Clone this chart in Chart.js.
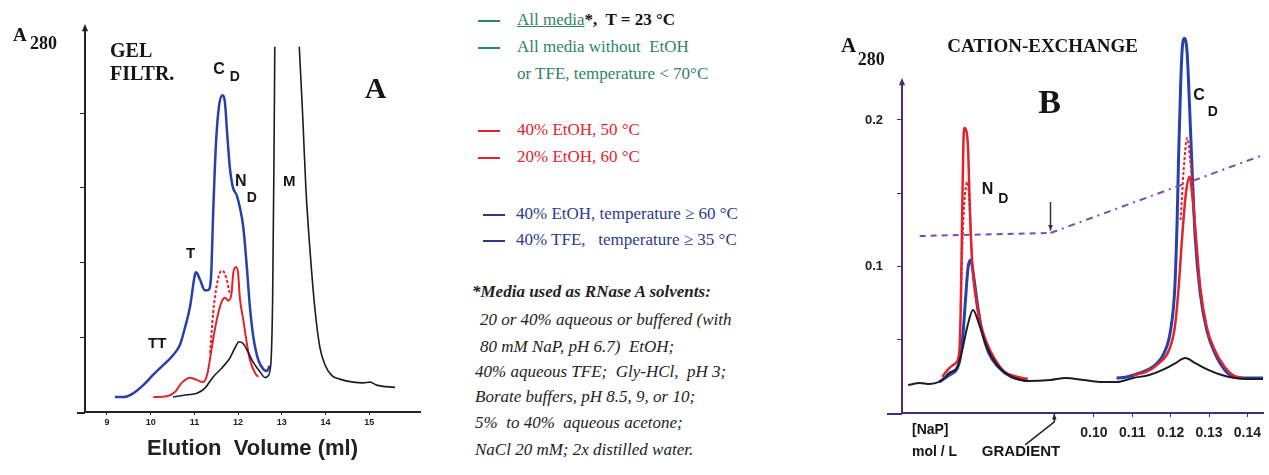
<!DOCTYPE html>
<html>
<head>
<meta charset="utf-8">
<script src="https://cdn.jsdelivr.net/npm/chart.js@4.4.1/dist/chart.umd.min.js"></script>
<style>
  body { margin:0; width:1269px; height:475px; position:relative; background:#fff; overflow:hidden; }
  .pane { position:absolute; top:0; }
  .ln { position:absolute; white-space:pre; font-family:"Liberation Serif","Times New Roman",serif; font-size:17px; line-height:20px; }
  .dash { display:inline-block; width:22px; height:0; border-top:2px solid; vertical-align:middle; margin-right:17px; }
  .green { color:#2e8466; }
  .red { color:#e3232b; }
  .blue { color:#2b3a8c; }
  .note { font-style:italic; color:#222; }
</style>
</head>
<body>
<canvas id="gel" class="pane" style="left:0" width="430" height="475"></canvas>
<canvas id="cex" class="pane" style="left:820px" width="449" height="475"></canvas>

<div class="ln green" style="left:478px;top:10px"><span class="dash"></span><u>All media</u><b style="color:#111">*,  T = 23 °C</b></div>
<div class="ln green" style="left:478px;top:37px"><span class="dash"></span>All media without  EtOH</div>
<div class="ln green" style="left:517px;top:64px">or TFE, temperature &lt; 70°C</div>
<div class="ln red" style="left:478px;top:120px"><span class="dash"></span>40% EtOH, 50 °C</div>
<div class="ln red" style="left:478px;top:147px"><span class="dash"></span>20% EtOH, 60 °C</div>
<div class="ln blue" style="left:483px;top:204px"><span class="dash" style="margin-right:11px"></span>40% EtOH, temperature ≥ 60 °C</div>
<div class="ln blue" style="left:483px;top:230px"><span class="dash" style="margin-right:11px"></span>40% TFE,   temperature ≥ 35 °C</div>

<div class="ln note" style="left:472px;top:282px"><b>*Media used as RNase A solvents:</b></div>
<div class="ln note" style="left:480px;top:310px">20 or 40% aqueous or buffered (with</div>
<div class="ln note" style="left:480px;top:337px">80 mM NaP, pH 6.7)  EtOH;</div>
<div class="ln note" style="left:475px;top:362px">40% aqueous TFE;  Gly-HCl,  pH 3;</div>
<div class="ln note" style="left:475px;top:387px">Borate buffers, pH 8.5, 9, or 10;</div>
<div class="ln note" style="left:475px;top:413px">5%  to 40%  aqueous acetone;</div>
<div class="ln note" style="left:475px;top:440px">NaCl 20 mM; 2x distilled water.</div>

<script>
// ---- panel A : gel filtration, x = elution volume (ml), y = A280 (arbitrary units)
const gelXTicks = [9, 10, 11, 12, 13, 14, 15];
const gelYTicks = [1, 2, 3, 4];

const gelBlue = [[9.18,0.20],[9.37,0.20],[9.60,0.25],[9.83,0.36],[10.06,0.50],[10.29,0.63],[10.48,0.74],
  [10.67,0.90],[10.78,1.12],[10.90,1.41],[11.01,1.83],[11.04,1.87],[11.13,1.77],[11.24,1.63],[11.31,1.63],
  [11.38,1.80],[11.43,2.67],[11.49,3.55],[11.56,4.08],[11.64,4.24],[11.70,4.14],[11.75,3.73],[11.81,3.28],
  [11.88,3.01],[11.97,2.90],[12.04,2.74],[12.12,2.47],[12.20,1.94],[12.27,1.41],[12.35,1.00],[12.46,0.70],
  [12.58,0.57],[12.66,0.55],[12.72,0.62]];

const gelRed = [[10.06,0.20],[10.37,0.21],[10.56,0.27],[10.71,0.39],[10.90,0.46],[11.05,0.43],[11.20,0.40],
  [11.30,0.52],[11.40,0.87],[11.51,1.23],[11.62,1.47],[11.70,1.53],[11.78,1.49],[11.85,1.59],[11.89,1.86],
  [11.95,1.94],[12.00,1.86],[12.04,1.53],[12.12,1.23],[12.20,0.92],[12.27,0.70],[12.39,0.52],[12.46,0.47]];

const gelRedDash = [[11.36,0.79],[11.43,1.33],[11.51,1.69],[11.59,1.87],[11.65,1.89],[11.72,1.81],[11.81,1.59]];

const gelBlack = [[10.51,0.20],[10.83,0.23],[11.06,0.25],[11.24,0.32],[11.43,0.47],[11.63,0.59],[11.81,0.72],
  [11.93,0.86],[12.02,0.94],[12.11,0.92],[12.23,0.80],[12.34,0.67],[12.50,0.54],[12.62,0.46],[12.68,0.48],
  [12.75,0.65],[12.79,1.50],[12.82,3.29],[12.84,4.89],[13.12,null],[13.40,4.89],[13.48,3.95],[13.55,3.01],
  [13.65,2.13],[13.76,1.37],[13.87,0.87],[13.99,0.63],[14.14,0.49],[14.33,0.44],[14.63,0.40],[14.86,0.39],
  [15.02,0.40],[15.17,0.36],[15.59,0.33]];

// ---- panel B : cation exchange, x = [NaP] mol/L, y = A280
const cexXTicks = [0.10, 0.11, 0.12, 0.13, 0.14];
const cexYTicks = [0.05, 0.1, 0.15, 0.2];
const cexYLabels = ['', '0.1', '', '0.2'];

const cexBlack = [[0.0516,0.0191],[0.0546,0.0205],[0.0572,0.0198],[0.0597,0.0212],[0.0605,0.0225],[0.0623,0.0273],
  [0.0644,0.0314],[0.0657,0.0430],[0.0670,0.0587],[0.0685,0.0703],[0.0700,0.0614],[0.0717,0.0478],[0.0734,0.0382],
  [0.0760,0.0294],[0.0794,0.0239],[0.0828,0.0218],[0.0887,0.0225],[0.0926,0.0239],[0.0974,0.0225],[0.1015,0.0212],
  [0.1059,0.0212],[0.1102,0.0239],[0.1144,0.0259],[0.1179,0.0294],[0.1213,0.0341],[0.1238,0.0375],[0.1264,0.0341],
  [0.1298,0.0294],[0.1333,0.0259],[0.1367,0.0239],[0.1400,0.0232],[0.1441,0.0232]];

const cexBlue = [[0.0597,0.0212],[0.0623,0.0259],[0.0649,0.0341],[0.0657,0.0478],[0.0666,0.0792],[0.0672,0.0990],
  [0.0679,0.1044],[0.0687,0.0928],[0.0696,0.0751],[0.0708,0.0567],[0.0726,0.0410],[0.0751,0.0314],[0.0785,0.0246],
  [0.0821,0.0225],[0.0950,null],
  [0.1059,0.0239],[0.1085,0.0246],[0.1119,0.0273],[0.1153,0.0314],[0.1183,0.0410],[0.1200,0.0567],[0.1211,0.0860],
  [0.1217,0.1317],[0.1221,0.1775],[0.1226,0.2227],[0.1230,0.2478],[0.1236,0.2558],[0.1243,0.2457],[0.1249,0.2116],
  [0.1256,0.1659],[0.1264,0.1201],[0.1277,0.0819],[0.1294,0.0567],[0.1315,0.0410],[0.1341,0.0294],[0.1367,0.0246],
  [0.1400,0.0239],[0.1441,0.0239]];

const cexRed = [[0.0605,0.0246],[0.0623,0.0307],[0.0640,0.0341],[0.0649,0.0410],[0.0653,0.0703],[0.0657,0.1386],
  [0.0660,0.1843],[0.0663,0.1945],[0.0667,0.1932],[0.0672,0.1816],[0.0677,0.1386],[0.0683,0.1024],[0.0692,0.0792],
  [0.0704,0.0614],[0.0721,0.0478],[0.0743,0.0362],[0.0768,0.0280],[0.0803,0.0246],[0.0828,0.0232],[0.0950,null],
  [0.1102,0.0259],[0.1136,0.0280],[0.1170,0.0341],[0.1196,0.0430],[0.1211,0.0587],[0.1221,0.0860],[0.1230,0.1201],
  [0.1240,0.1502],[0.1249,0.1613],[0.1257,0.1474],[0.1266,0.1201],[0.1277,0.0860],[0.1294,0.0587],[0.1315,0.0430],
  [0.1341,0.0314],[0.1362,0.0259],[0.1387,0.0239]];

const cexRedDash = [[0.0653,0.0703],[0.0657,0.1113],[0.0662,0.1420],[0.0670,0.1577],[0.0676,0.1420],[0.0680,0.1181],
  [0.0683,0.1024],[0.0950,null],
  [0.1226,0.1317],[0.1234,0.1659],[0.1243,0.1877],[0.1251,0.1727],[0.1257,0.1543],[0.1261,0.1352]];

const cexGradient = [[0.0546,0.1208],[0.0887,0.1229],[0.1441,0.1761]];

const BLUE = '#2741a8', RED = '#e3232b', BLACK = '#1d1b26', PURPLE = '#7a4cb5';
const pts = a => a.map(p => ({x: p[0], y: p[1]}));

function arrowHead(ctx, x0, y0, x1, y1, size) {
  const ang = Math.atan2(y1 - y0, x1 - x0);
  ctx.beginPath();
  ctx.moveTo(x1, y1);
  ctx.lineTo(x1 - size * Math.cos(ang - 0.4), y1 - size * Math.sin(ang - 0.4));
  ctx.lineTo(x1 - size * Math.cos(ang + 0.4), y1 - size * Math.sin(ang + 0.4));
  ctx.closePath();
  ctx.fill();
}

// draws text labels, pointer arrows, the arrow on top of the y axis
// and the short stub of the x axis left of the y axis
function makeNotes(items, arrows, axisColor, stub) {
  return {
    id: 'notes',
    afterDraw(chart) {
      const {ctx, chartArea} = chart;
      const sx = chart.scales.x, sy = chart.scales.y;
      ctx.save();
      ctx.textAlign = 'left';
      ctx.textBaseline = 'middle';
      items.forEach(n => {
        ctx.font = n.font;
        ctx.fillStyle = n.color || '#151515';
        ctx.fillText(n.text, sx.getPixelForValue(n.x), sy.getPixelForValue(n.y));
      });
      ctx.lineWidth = 1.5;
      arrows.forEach(a => {
        ctx.strokeStyle = ctx.fillStyle = a.color;
        const p = a.path.map(q => [sx.getPixelForValue(q[0]), sy.getPixelForValue(q[1])]);
        ctx.beginPath();
        p.forEach((q, i) => i ? ctx.lineTo(q[0], q[1]) : ctx.moveTo(q[0], q[1]));
        ctx.stroke();
        const m = p.length;
        arrowHead(ctx, p[m - 2][0], p[m - 2][1], p[m - 1][0], p[m - 1][1], 6);
      });
      ctx.strokeStyle = ctx.fillStyle = axisColor;
      ctx.lineWidth = 2;
      ctx.beginPath();
      ctx.moveTo(chartArea.left, chartArea.top + 1);
      ctx.lineTo(chartArea.left, chartArea.top - 3);
      ctx.moveTo(chartArea.left - stub, chartArea.bottom + 1);
      ctx.lineTo(chartArea.left, chartArea.bottom + 1);
      ctx.stroke();
      arrowHead(ctx, chartArea.left, chartArea.top, chartArea.left, chartArea.top - 8, 8);
      ctx.restore();
    }
  };
}

const serif = '"Liberation Serif","Times New Roman",serif';
const sans = '"Liberation Sans",Arial,sans-serif';

const gelNotes = [
  {text: 'A', x: 6.85, y: 5.03, font: 'bold 19px ' + serif},
  {text: '280', x: 7.24, y: 4.92, font: 'bold 18px ' + serif},
  {text: 'GEL', x: 9.07, y: 4.82, font: 'bold 20px ' + serif},
  {text: 'FILTR.', x: 9.07, y: 4.51, font: 'bold 20px ' + serif},
  {text: 'C', x: 11.43, y: 4.59, font: 'bold 16px ' + sans},
  {text: 'D', x: 11.81, y: 4.48, font: 'bold 14px ' + sans},
  {text: 'N', x: 11.93, y: 3.09, font: 'bold 16px ' + sans},
  {text: 'D', x: 12.20, y: 2.86, font: 'bold 14px ' + sans},
  {text: 'M', x: 13.03, y: 3.08, font: 'bold 15px ' + sans},
  {text: 'T', x: 10.81, y: 2.12, font: 'bold 15px ' + sans},
  {text: 'TT', x: 9.94, y: 0.91, font: 'bold 15px ' + sans},
  {text: 'A', x: 14.90, y: 4.31, font: 'bold 30px ' + serif}
];

const cexNotes = [
  {text: 'A', x: 0.0341, y: 0.2498, font: 'bold 21px ' + serif},
  {text: '280', x: 0.0385, y: 0.2410, font: 'bold 18px ' + serif},
  {text: 'CATION-EXCHANGE', x: 0.0618, y: 0.2498, font: 'bold 19px ' + serif},
  {text: 'B', x: 0.0855, y: 0.2110, font: 'bold 34px ' + serif},
  {text: 'N', x: 0.0708, y: 0.1522, font: 'bold 16px ' + sans},
  {text: 'D', x: 0.0751, y: 0.1461, font: 'bold 14px ' + sans},
  {text: 'C', x: 0.1259, y: 0.2164, font: 'bold 16px ' + sans},
  {text: 'D', x: 0.1297, y: 0.2055, font: 'bold 14px ' + sans},
  {text: '[NaP]', x: 0.0526, y: -0.0116, font: 'bold 14px ' + sans},
  {text: 'mol / L', x: 0.0526, y: -0.0266, font: 'bold 14px ' + sans},
  {text: 'GRADIENT', x: 0.0708, y: -0.0266, font: 'bold 15px ' + sans}
];

const cexArrows = [
  {path: [[0.0821,-0.0218],[0.0897,-0.0061],[0.0897,-0.0007]], color: '#222'},
  {path: [[0.0887,0.1440],[0.0887,0.1245]], color: '#333'}
];

// ---- chart A
new Chart(document.getElementById('gel'), {
  type: 'line',
  data: {
    datasets: [
      {label: 'All media', data: pts(gelBlack), borderColor: BLACK, borderWidth: 1.6},
      {label: '20% EtOH, 60 °C', data: pts(gelRedDash), borderColor: RED, borderWidth: 2, borderDash: [3, 2]},
      {label: '40% EtOH, 50 °C', data: pts(gelRed), borderColor: RED, borderWidth: 2},
      {label: '40% EtOH / TFE', data: pts(gelBlue), borderColor: BLUE, borderWidth: 2.5}
    ]
  },
  options: {
    responsive: false,
    animation: false,
    spanGaps: false,
    elements: {point: {radius: 0}, line: {cubicInterpolationMode: 'monotone'}},
    layout: {padding: {top: 32, right: 10, left: 0, bottom: 0}},
    plugins: {legend: {display: false}, tooltip: {enabled: false}},
    scales: {
      x: {
        type: 'linear', min: 8.4966, max: 16.163,
        afterBuildTicks: s => { s.ticks = gelXTicks.map(v => ({value: v})); },
        afterFit: s => { s.height = 63; },
        grid: {drawOnChartArea: false, tickLength: 3, color: '#222'},
        border: {color: '#222', width: 2},
        ticks: {color: '#222', padding: 2, maxRotation: 0, autoSkip: false,
                font: {family: sans, size: 9, weight: 'bold'}},
        title: {display: true, text: 'Elution  Volume (ml)', color: '#222',
                font: {family: sans, size: 22, weight: 'bold'}, padding: {top: 0, bottom: 13}}
      },
      y: {
        min: 0, max: 5.087,
        afterBuildTicks: s => { s.ticks = gelYTicks.map(v => ({value: v})); },
        afterFit: s => { s.width = 85; },
        grid: {drawOnChartArea: false, tickLength: 5, color: '#222'},
        border: {color: '#222', width: 2},
        ticks: {display: false}
      }
    }
  },
  plugins: [makeNotes(gelNotes, [], '#222', 8)]
});

// ---- chart B
new Chart(document.getElementById('cex'), {
  type: 'line',
  data: {
    datasets: [
      {label: 'All media', data: pts(cexBlack), borderColor: BLACK, borderWidth: 2},
      {label: '[NaP] gradient', data: pts(cexGradient), borderColor: PURPLE, borderWidth: 2,
       cubicInterpolationMode: 'default', tension: 0,
       segment: {borderDash: c => c.p0.parsed.x < 0.088 ? [6, 5] : [7, 5, 2, 5]}},
      {label: '20% EtOH, 60 °C', data: pts(cexRedDash), borderColor: RED, borderWidth: 2, borderDash: [3, 2]},
      {label: '40% EtOH, 50 °C', data: pts(cexRed), borderColor: RED, borderWidth: 2.5},
      {label: '40% EtOH / TFE', data: pts(cexBlue), borderColor: BLUE, borderWidth: 3, clip: false}
    ]
  },
  options: {
    responsive: false,
    animation: false,
    spanGaps: false,
    elements: {point: {radius: 0}, line: {cubicInterpolationMode: 'monotone'}},
    layout: {padding: {top: 86, right: 0, left: 0, bottom: 0}},
    plugins: {legend: {display: false}, tooltip: {enabled: false}},
    scales: {
      x: {
        type: 'linear', min: 0.05, max: 0.1441,
        afterBuildTicks: s => { s.ticks = cexXTicks.map(v => ({value: v})); },
        afterFit: s => { s.height = 62; },
        grid: {drawOnChartArea: false, tickLength: 4, color: '#4a2c7a'},
        border: {color: '#4a2c7a', width: 2},
        ticks: {color: '#222', padding: 8, maxRotation: 0, autoSkip: false,
                font: {family: sans, size: 14, weight: 'bold'},
                callback: v => v.toFixed(2)}
      },
      y: {
        min: 0, max: 0.2232,
        afterBuildTicks: s => { s.ticks = cexYTicks.map(v => ({value: v})); },
        afterFit: s => { s.width = 82; },
        grid: {drawOnChartArea: false, tickLength: 5, color: '#4a2c7a'},
        border: {color: '#4a2c7a', width: 2},
        ticks: {color: '#222', padding: 14, font: {family: sans, size: 13, weight: 'bold'},
                callback: (v, i) => cexYLabels[i]}
      }
    }
  },
  plugins: [makeNotes(cexNotes, cexArrows, '#4a2c7a', 15)]
});
</script>
</body>
</html>
